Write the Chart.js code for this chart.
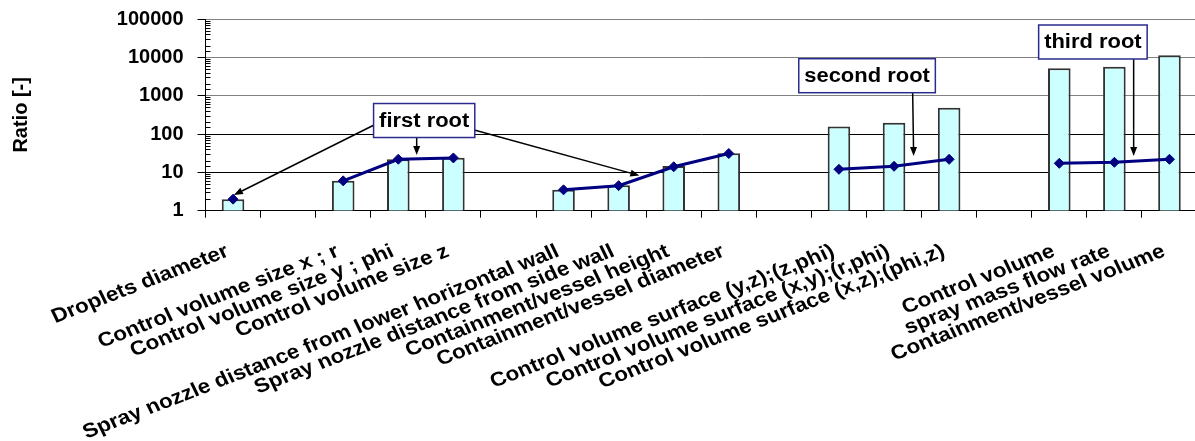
<!DOCTYPE html>
<html>
<head>
<meta charset="utf-8">
<title>Ratio chart</title>
<script src="https://cdn.jsdelivr.net/npm/chart.js@4"></script>
<style>
    html, body { margin: 0; padding: 0; background: #fff; overflow: hidden; }
    #wrap { width: 1203px; height: 441px; }
</style>
</head>
<body>
<div id="wrap"><canvas id="myChart"></canvas></div>
<script>
var categories = [
    'Droplets diameter', '',
    'Control volume size x ; r', 'Control volume size y ; phi', 'Control volume size z', '',
    'Spray nozzle distance from lower horizontal wall', 'Spray nozzle distance from side wall',
    'Containment/vessel height', 'Containment/vessel diameter', '',
    'Control volume surface (y,z);(z,phi)', 'Control volume surface (x,y);(r,phi)',
    'Control volume surface (x,z);(phi,z)', '',
    'Control volume', 'spray mass flow rate', 'Containment/vessel volume'
];
var ratioBars = [2, null, 6, 22, 24, null, 3.5, 4.6, 14.7, 31.5, null, 156, 198, 487, null, 5190, 5710, 11300];
var rootLine = [2, null, 6, 22, 23.8, null, 3.5, 4.5, 14, 31, null, 12, 14.4, 21.9, null, 17.2, 18.3, 21.9];
var yTicks = [1, 10, 100, 1000, 10000, 100000];

// labels of the roots, placed in data coordinates (category index, value)
var rootNotes = [
    { text: 'first root', at: [3.47, 225] },
    { text: 'second root', at: [11.51, 3319] },
    { text: 'third root', at: [15.61, 25120] }
];
var rootArrows = [
    [[2.56, 172], [0.015, 2.57]],
    [[3.334, 83.6], [3.334, 28.4]],
    [[4.38, 127.3], [7.376, 8.28]],
    [[12.338, 1196], [12.356, 26.7]],
    [[16.35, 9057], [16.35, 26.7]]
];

var FONT = '"Liberation Sans", Arial, sans-serif';
var stretch = 1.12;          // the original text is a bit wider than it is tall
var labelAngle = 23.4 * Math.PI / 180;

var notesPlugin = {
    id: 'notes',
    afterDatasetsDraw: function (chart) {
        var ctx = chart.ctx;
        var xs = chart.scales.x, ys = chart.scales.y;

        // minor ticks on the inside of the y axis
        ctx.save();
        ctx.strokeStyle = '#000';
        ctx.lineWidth = 1;
        ys.ticks.forEach(function (t) {
            if (yTicks.indexOf(t.value) >= 0) return;
            var py = Math.round(ys.getPixelForValue(t.value)) + 0.5;
            ctx.beginPath();
            ctx.moveTo(xs.left, py);
            ctx.lineTo(xs.left + 5, py);
            ctx.stroke();
        });
        ctx.restore();

        // category labels, slanted, the end of the baseline under each category
        ctx.save();
        ctx.fillStyle = '#000';
        ctx.font = 'bold 20px ' + FONT;
        ctx.textAlign = 'right';
        ctx.textBaseline = 'alphabetic';
        categories.forEach(function (label, i) {
            if (!label) return;
            ctx.save();
            ctx.translate(xs.getPixelForTick(i) - 3, xs.top + 45);
            ctx.scale(stretch, 1);
            ctx.rotate(-labelAngle);
            ctx.fillText(label, 0, 0);
            ctx.restore();
        });
        ctx.restore();

        // arrows
        ctx.save();
        ctx.strokeStyle = '#000';
        ctx.fillStyle = '#000';
        ctx.lineWidth = 1.5;
        rootArrows.forEach(function (a) {
            var x1 = xs.getPixelForValue(a[0][0]), y1 = ys.getPixelForValue(a[0][1]);
            var x2 = xs.getPixelForValue(a[1][0]), y2 = ys.getPixelForValue(a[1][1]);
            var ang = Math.atan2(y2 - y1, x2 - x1);
            var len = 9, half = 3.5;
            ctx.beginPath();
            ctx.moveTo(x1, y1);
            ctx.lineTo(x2 - Math.cos(ang) * len, y2 - Math.sin(ang) * len);
            ctx.stroke();
            ctx.beginPath();
            ctx.moveTo(x2, y2);
            ctx.lineTo(x2 - Math.cos(ang) * len - Math.sin(ang) * half, y2 - Math.sin(ang) * len + Math.cos(ang) * half);
            ctx.lineTo(x2 - Math.cos(ang) * len + Math.sin(ang) * half, y2 - Math.sin(ang) * len - Math.cos(ang) * half);
            ctx.closePath();
            ctx.fill();
        });

        // boxes with the root names
        ctx.font = 'bold 19.6px ' + FONT;
        ctx.textAlign = 'center';
        ctx.textBaseline = 'middle';
        rootNotes.forEach(function (n) {
            var cx = xs.getPixelForValue(n.at[0]), cy = ys.getPixelForValue(n.at[1]);
            var w = ctx.measureText(n.text).width * stretch + 11, h = 34;
            ctx.fillStyle = '#fff';
            ctx.fillRect(cx - w / 2, cy - h / 2, w, h);
            ctx.strokeStyle = '#2b2b8f';
            ctx.lineWidth = 1.5;
            ctx.strokeRect(cx - w / 2, cy - h / 2, w, h);
            ctx.fillStyle = '#000';
            ctx.save();
            ctx.translate(cx, cy + 1);
            ctx.scale(stretch, 1);
            ctx.fillText(n.text, 0, 0);
            ctx.restore();
        });
        ctx.restore();
    }
};

var ctx = document.getElementById('myChart').getContext('2d');
var ratioChart = new Chart(ctx, {
    type: 'bar',
    data: {
        labels: categories,
        datasets: [
            {
                type: 'line',
                data: rootLine,
                order: 0,
                borderColor: '#000080',
                backgroundColor: '#000080',
                borderWidth: 3,
                pointStyle: 'rectRot',
                pointRadius: 5,
                pointBorderWidth: 1,
                spanGaps: false,
                tension: 0
            },
            {
                type: 'bar',
                data: ratioBars,
                order: 1,
                backgroundColor: '#ccffff',
                borderColor: '#333',
                borderWidth: 2,
                categoryPercentage: 1,
                barPercentage: 0.41
            }
        ]
    },
    options: {
        responsive: true,
        maintainAspectRatio: false,
        animation: false,
        layout: { padding: { top: 19, left: 0, right: 0, bottom: 0 } },
        plugins: {
            legend: { display: false },
            tooltip: { enabled: false }
        },
        scales: {
            x: {
                type: 'category',
                grid: { offset: true, drawOnChartArea: false, drawTicks: true, tickLength: 7, color: '#000' },
                border: { color: '#000', width: 1 },
                ticks: { display: false, autoSkip: false },
                afterFit: function (s) {
                    s.height = 230.3;
                    s.paddingLeft = 0;
                    s.paddingRight = 0;
                }
            },
            y: {
                type: 'logarithmic',
                min: 1,
                max: 100000,
                grid: {
                    color: function (c) {
                        if (!c.tick || yTicks.indexOf(c.tick.value) < 0) return 'rgba(0,0,0,0)';
                        return c.tick.value >= 1000 ? '#808080' : '#000';
                    },
                    tickColor: function (c) {
                        return c.tick && yTicks.indexOf(c.tick.value) >= 0 ? '#000' : 'rgba(0,0,0,0)';
                    },
                    tickLength: 8
                },
                border: { color: '#000', width: 1 },
                ticks: {
                    autoSkip: false,
                    padding: 14,
                    color: '#000',
                    font: { family: FONT, size: 20, weight: 'bold' },
                    callback: function (v) {
                        return yTicks.indexOf(v) >= 0 ? String(v) : '';
                    }
                },
                title: {
                    display: true,
                    text: 'Ratio [-]',
                    color: '#000',
                    font: { family: FONT, size: 20, weight: 'bold' },
                    padding: { top: 9, bottom: 0 }
                },
                afterFit: function (s) {
                    s.width = 205.5;
                    s.paddingTop = 0;
                    s.paddingBottom = 0;
                }
            }
        }
    },
    plugins: [notesPlugin]
});
</script>
</body>
</html>
